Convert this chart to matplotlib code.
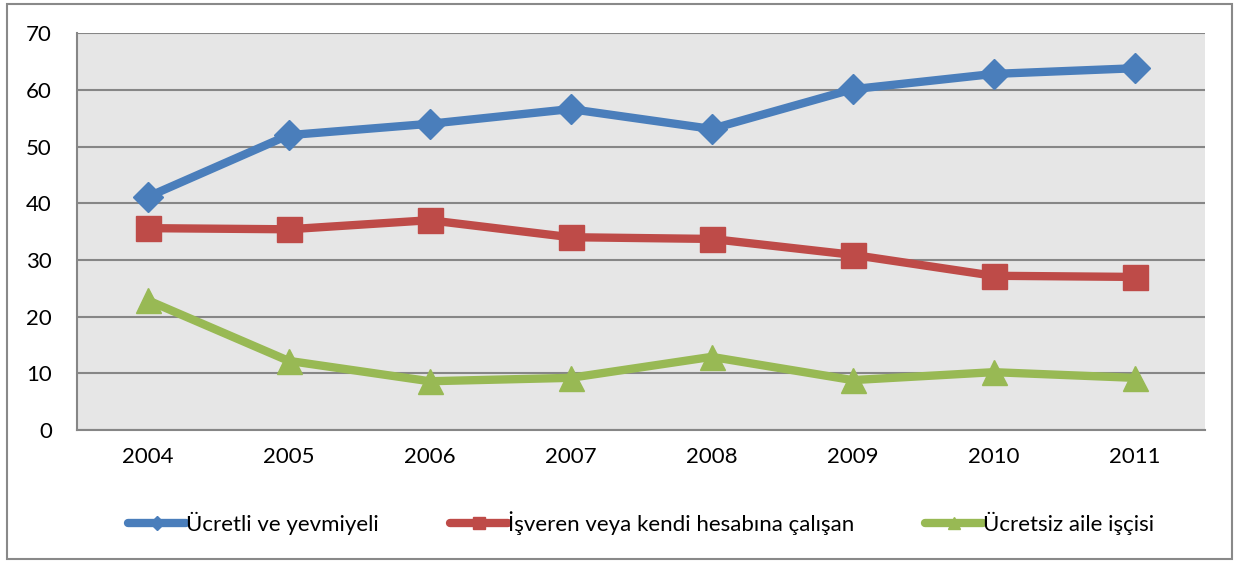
import matplotlib.pyplot as plt
from matplotlib.patches import Rectangle

plt.rcParams['font.family'] = ['Lato', 'DejaVu Sans']

years = ["2004", "2005", "2006", "2007", "2008", "2009", "2010", "2011"]
ucretli = [41.1, 52.0, 54.0, 56.6, 53.1, 60.1, 62.8, 63.8]
isveren = [35.6, 35.4, 37.0, 34.0, 33.7, 30.9, 27.2, 27.0]
ucretsiz = [22.9, 12.2, 8.6, 9.2, 12.9, 8.8, 10.2, 9.2]

labels = ["Ücretli ve yevmiyeli", "İşveren veya kendi hesabına çalışan", "Ücretsiz aile işçisi"]
colors = ["#4A7EBB", "#BE4B48", "#98B954"]
markers = ["D", "s", "^"]
msizes = [15, 18, 18]

fig = plt.figure(figsize=(12.36, 5.61), dpi=100)
ax = fig.add_axes([0.0623, 0.2335, 0.9127, 0.7075])
ax.set_facecolor("#E6E6E6")

x = range(len(years))
for vals, lab, c, m, ms in zip([ucretli, isveren, ucretsiz], labels, colors, markers, msizes):
    ax.plot(x, vals, color=c, lw=6, marker=m, markersize=ms, label=lab,
            solid_capstyle="round", zorder=3)

ax.set_xlim(-0.5, len(years) - 0.5)
ax.set_ylim(0, 70)
ax.set_yticks(range(0, 71, 10))
ax.set_xticks(list(x))
ax.set_xticklabels(years)
ax.yaxis.grid(True, color="#868686", lw=1.5)
ax.set_axisbelow(True)
ax.tick_params(length=0, labelsize=16, colors="black")
ax.tick_params(axis="x", pad=12)
ax.tick_params(axis="y", pad=18)
for s in ["top", "right"]:
    ax.spines[s].set_visible(False)
for s in ["left", "bottom"]:
    ax.spines[s].set_color("#868686")
    ax.spines[s].set_linewidth(1.5)

ax.legend(loc="center", bbox_to_anchor=(0.5, -0.235), ncol=3, frameon=False,
          fontsize=16, handlelength=2.6, handletextpad=0.0, columnspacing=3.2,
          markerscale=0.5)

fig.patches.append(Rectangle((0.006, 0.003), 0.991, 0.99, transform=fig.transFigure,
                             fill=False, edgecolor="#898989", lw=1.5))

fig.savefig("out.png", dpi=100)
